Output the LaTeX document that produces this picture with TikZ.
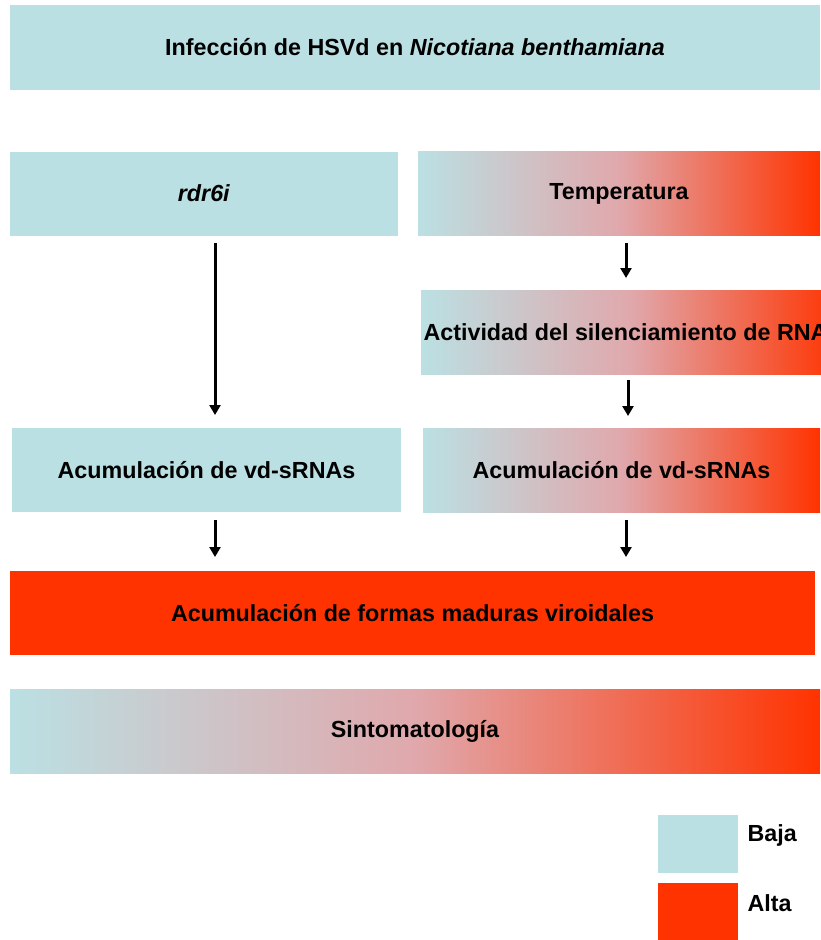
\documentclass[tikz,border=0pt]{standalone}
\usepackage{fontspec}
\setmainfont{Liberation Sans}
\usetikzlibrary{arrows.meta,positioning}
\definecolor{baja}{RGB}{187,224,227}
\definecolor{alta}{RGB}{255,51,0}
\definecolor{medio}{RGB}{224,168,172}
\begin{document}
\begin{tikzpicture}[x=1pt,y=-1pt,>={Triangle[length=10pt,width=11pt]},
  flow/.style={->,line width=3pt},
  caja/.style={rectangle,inner sep=0pt,minimum height=84pt,font=\fontsize{23.3}{27}\selectfont\bfseries,text=black},
  fria/.style={caja,fill=baja},
  caliente/.style={caja,fill=alta},
  grad/.style={caja,left color=baja,right color=alta,middle color=medio}]
\useasboundingbox (0,0) rectangle (820,940);
\node[fria,minimum width=810pt,minimum height=85pt] (infec) at (415,47.5) {Infección de HSVd en \textit{Nicotiana benthamiana}};
\node[fria,minimum width=388pt] (rdr) at (204,193.5) {\textit{rdr6i}};
\node[grad,minimum width=402pt] (temp) at (619,193.5) {Temperatura};
\node[grad,minimum width=419pt] (activ) at (630.5,332) {};
\node[anchor=west,font=\fontsize{23.3}{27}\selectfont\bfseries] (tactiv) at (420,332) {Actividad del silenciamiento de RNA};
\node[fria,minimum width=389pt] (acumI) at (206.5,470) {Acumulación de vd-sRNAs};
\node[grad,minimum width=397pt] (acumD) at (621.5,470) {Acumulación de vd-sRNAs};
\node[caliente,minimum width=805pt] (formas) at (412.5,613) {Acumulación de formas maduras viroidales};
\node[grad,minimum width=810pt] (sinto) at (415,731) {Sintomatología};
% leyenda
\node[rectangle,fill=baja,minimum width=80pt,minimum height=58pt] (baja) at (698,844) {};
\node[rectangle,fill=alta,minimum width=80pt,minimum height=58pt] (alta) at (698,912) {};
\node[anchor=west,font=\fontsize{23.3}{27}\selectfont\bfseries] (tbaja) at (744,835) {Baja};
\node[anchor=west,font=\fontsize{23.3}{27}\selectfont\bfseries] (talta) at (744,903) {Alta};
% flechas
\coordinate (f1) at (215,243);
\coordinate (f1e) at (215,415);
\coordinate (f2) at (626,243);
\coordinate (f3) at (628,380);
\coordinate (f4) at (215,520);
\coordinate (f5) at (626,520);
\draw[flow] (f1) -- (f1e);
\draw[flow] (f2) -- ++(0,35);
\draw[flow] (f3) -- ++(0,36);
\draw[flow] (f4) -- ++(0,37);
\draw[flow] (f5) -- ++(0,37);
\end{tikzpicture}
\end{document}
